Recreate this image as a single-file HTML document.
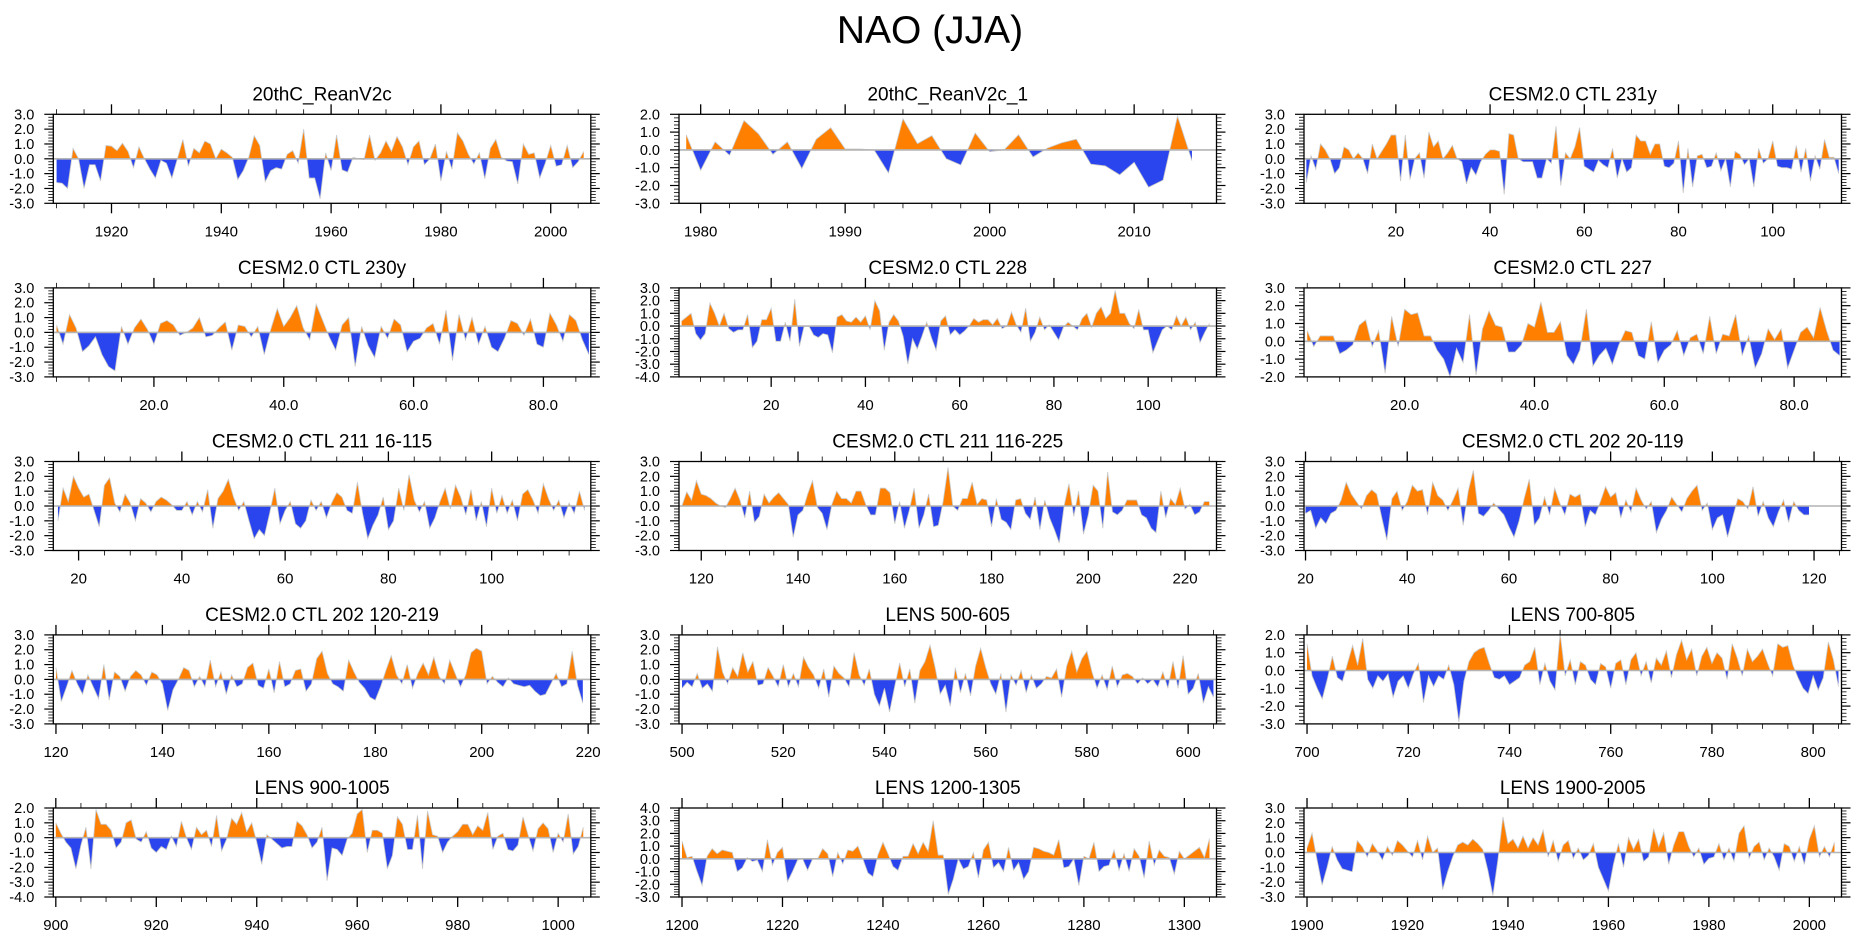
<!DOCTYPE html>
<html><head><meta charset="utf-8"><title>NAO (JJA)</title>
<style>
html,body{margin:0;padding:0;background:#fff;}
svg{display:block;font-family:"Liberation Sans",Arial,sans-serif;}
</style></head>
<body>
<svg id="chart" width="1861" height="937" viewBox="0 0 1861 937" xmlns="http://www.w3.org/2000/svg">
<rect x="0" y="0" width="1861" height="937" fill="#fff"/>
<text x="930" y="43" text-anchor="middle" font-size="39" fill="#000">NAO (JJA)</text>
<defs id="defs"></defs>
</svg>
<script>
// ---- data ----
const p1Start = 1910;
const p1Values = [-1.6,-1.65,-2.0,0.7,0,-2.0,-0.4,-0.4,-1.5,0.9,
0.85,0.55,1.05,0.5,-0.6,0.8,0.0,-0.7,-1.3,-0.1,
-0.3,-1.3,0.0,1.3,-0.5,0.7,0.4,1.2,1.0,0.0,
0.65,0.4,0.1,-1.4,-0.8,0.1,1.55,0.9,-1.55,-0.8,
-0.6,-0.7,0.3,0.55,-0.3,2.0,-1.3,-1.3,-2.7,0.4,
-0.8,1.6,-0.75,-0.9,0.1,0.0,-0.05,1.6,-0.1,0.4,
1.2,0.5,1.5,0.8,-0.4,0.8,1.2,-0.4,0.0,1.0,
-1.5,0.5,-0.7,1.75,1.2,0.3,-0.35,0.4,-1.35,0.7,
1.3,0.1,-0.15,-0.2,-1.7,1.0,0.3,0.4,-1.3,-0.3,
0.9,-0.5,-0.4,0.9,-0.6,-0.2,0.5];
const p2Start = 1979;
const p2Values = [0.85,-1.15,0.45,-0.3,1.65,0.9,-0.25,0.45,-1.05,0.6,1.25,0.05,0.05,0.0,-1.3,1.75,0.35,0.8,-0.5,-0.85,0.95,-0.1,0.0,0.85,-0.4,0.1,0.4,0.6,-0.8,-0.9,-1.4,-0.7,-2.1,-1.7,1.9,-0.6];
const p3Start = 1;
const p3Values = [-1.6,0.2,-0.7,1.0,0.6,0.0,-1.0,-0.6,0.8,0.6,
0.0,0.4,0.0,-1.0,1.0,0.0,0.5,1.0,1.6,1.6,
-1.5,1.6,-1.4,0.0,0.4,-1.3,1.8,0.8,1.2,0.0,
0.4,0.9,0.0,-0.2,-1.7,-0.6,-1.1,-0.2,0.3,0.6,
0.6,0.5,-2.4,1.7,1.6,0.0,-0.2,-0.2,-0.2,-1.3,
-1.3,0.0,-0.3,2.2,-1.8,0.4,0.0,0.8,2.1,-0.5,
-0.7,-0.9,-0.1,-0.4,-0.6,0.7,-1.3,0.0,-0.9,-0.6,
1.6,1.2,1.2,0.3,1.0,1.0,-0.5,-0.6,-0.3,1.2,
-2.3,0.7,-1.9,0.2,0.3,-0.6,-0.5,0.4,-0.8,0.0,
-1.9,0.5,0.3,-0.4,0.0,-1.9,0.7,-0.3,0.0,1.2,
-0.5,-0.6,-0.6,-0.7,0.9,-0.9,0.7,-1.5,0.2,-0.7,
1.3,0.1,0.1,-1.0];
const p4Start = 5;
const p4Values = [0.5,-0.8,1.2,0.3,-1.3,-0.9,-0.3,-1.5,-2.3,-2.6,
0.4,-0.8,0.3,0.9,0.2,-0.8,0.6,0.8,0.5,-0.2,
0.0,0.3,1.0,-0.3,-0.2,0.3,0.7,-1.2,0.5,0.4,
-0.3,0.4,-1.5,0.2,1.6,0.4,1.0,1.8,0.3,-0.5,
1.9,0.8,-0.3,-1.2,0.5,1.0,-2.3,0.4,-0.9,-1.7,
0.4,-0.4,0.9,0.5,-1.3,-0.6,-0.4,0.3,0.6,-0.8,
1.5,-1.9,1.2,-0.5,1.0,-0.8,0.4,-1.0,-1.3,-0.4,
0.8,0.6,-0.2,0.9,-0.8,-1.0,1.3,0.5,-0.6,1.2,
0.8,-0.5,-1.5];
const p5Start = 1;
const p5Values = [0.4,0.7,1.0,-0.6,-1.1,-0.6,1.8,1.0,0.0,1.0,
-0.2,-0.5,-0.3,-0.3,0.9,-1.7,-1.2,0.5,0.5,1.4,
-1.2,-1.2,0.3,-1.2,2.1,-1.6,0.0,0.0,-0.7,-0.9,
-0.6,-0.7,-2.1,0.7,0.9,0.4,0.3,0.7,0.3,0.8,
-0.3,2.0,1.2,-1.9,0.3,0.9,0.4,-0.8,-3.0,-1.0,
-1.8,-0.8,0.3,-0.9,-1.9,0.4,0.8,-0.7,-0.3,-0.7,
-0.4,0.0,0.6,0.3,0.5,0.5,0.1,0.6,-0.2,0.0,
1.1,0.1,-0.5,1.4,-1.2,-0.5,0.7,-0.3,0.1,-0.5,
-1.1,-0.1,0.3,0.0,-0.3,0.6,1.0,-0.1,1.0,1.5,
0.6,1.0,2.8,1.0,1.0,0.2,-0.2,1.3,-0.3,-0.3,
-2.1,-1.2,-0.3,0.0,-0.3,0.8,0.0,0.7,-0.3,0.3,
-1.3,-0.5,0.2];
const p6Start = 5;
const p6Values = [0.6,-0.3,0.3,0.3,0.3,-0.7,-0.5,-0.2,0.9,1.2,
-0.3,0.6,-1.8,1.4,-0.3,1.8,1.5,1.6,0.3,0.3,
-0.5,-1.0,-2.0,-0.4,-1.2,1.5,-1.9,0.7,1.7,0.9,
0.8,-0.6,-0.6,-0.2,1.0,0.8,2.2,0.5,0.5,1.1,
-0.8,-1.3,-0.5,1.8,-1.4,-0.8,-0.4,-1.3,-0.2,0.6,
0.5,-0.8,-1.0,1.1,-1.2,-0.5,-0.2,0.6,-0.8,0.2,
0.4,-0.7,1.4,-0.7,0.4,0.3,1.5,-0.8,0.3,-1.5,
-0.7,0.7,0.1,0.7,-1.5,-0.5,0.5,0.8,0.2,1.9,
0.6,-0.5,-0.8];
const p7Start = 16;
const p7Values = [-1.0,1.2,0.3,2.0,1.2,0.6,0.8,-0.3,-1.4,1.4,
1.9,0.2,-0.4,0.8,0.2,-1.0,0.5,0.2,-0.4,0.3,
0.6,0.4,0.1,-0.3,-0.3,0.3,-0.6,0.3,-0.4,1.1,
-1.5,0.5,1.0,1.8,0.6,-0.3,0.3,-1.0,-2.2,-1.6,
-2.0,-0.5,1.2,-1.2,-0.3,0.3,-1.2,-1.5,-1.0,0.4,
-0.3,0.3,-0.8,0.2,0.9,0.6,-0.3,-0.5,1.6,-0.5,
-2.2,-1.3,-0.6,0.6,-1.6,-1.0,1.2,-0.3,2.1,0.4,
-0.4,0.3,-1.5,-0.8,0.3,1.2,-0.2,1.4,0.6,-0.6,
1.1,-1.0,0.3,-1.4,1.2,-0.5,0.7,-0.5,0.4,-1.0,
0.8,1.1,0.4,-0.5,1.5,0.5,-0.3,0.4,-0.8,0.2,
-0.5,1.0,-0.3];
const p8Start = 116;
const p8Values = [0.0,0.95,0.4,1.7,0.8,0.7,0.5,0.2,0.0,-0.1,
0.5,1.2,0.4,-0.8,1.0,-1.1,-0.7,0.8,0.2,0.6,
0.9,0.5,0.1,-2.1,-0.6,-0.3,0.8,1.7,-0.1,-0.5,
-1.6,0.1,1.0,0.5,0.5,0.2,1.0,1.0,0.1,-0.6,
-0.6,1.2,1.2,0.9,-1.2,0.3,-1.5,-0.3,1.2,-1.5,
-0.6,0.8,-1.4,-1.3,0.3,2.6,0.0,-0.3,0.5,0.5,
1.6,0.1,0.5,0.4,-1.4,0.5,-0.9,-1.1,-1.6,0.4,
0.5,-0.5,-0.9,0.6,-1.6,0.4,-0.8,-1.6,-2.5,0.0,
1.5,-0.7,1.0,-1.9,-0.6,1.4,1.0,-1.5,2.3,-0.4,
-0.6,-0.3,0.4,0.4,0.4,-0.6,-0.8,-1.5,-1.8,1.0,
-0.8,0.5,0.1,1.2,-0.2,0.1,-0.6,-0.4,0.3,0.3];
const p9Start = 20;
const p9Values = [-0.5,-0.3,-1.5,-0.8,-1.2,-0.5,-0.3,0.4,1.6,0.8,
0.3,-0.2,0.7,1.1,0.8,-0.8,-2.3,0.5,1.0,-0.3,
0.3,1.4,1.0,1.1,-0.6,1.6,0.7,0.4,-0.3,0.4,
1.2,-1.3,1.0,2.4,-0.5,-0.7,-0.3,0.2,-0.2,-0.6,
-1.4,-2.1,-1.0,0.5,1.8,-1.3,-0.8,0.6,-0.6,1.2,
0.2,-0.6,0.8,0.6,0.8,-1.4,-0.3,-0.6,0.3,1.3,
0.6,0.9,-0.8,0.4,-0.4,1.2,0.4,-0.2,0.3,-1.8,
-0.9,-0.3,0.6,0.1,-0.4,0.5,1.0,1.4,-0.3,0.2,
-1.6,-0.8,-0.6,-2.1,-0.8,0.5,0.3,-0.2,1.3,-0.7,
0.3,-0.8,-1.4,-0.4,0.4,-1.1,0.3,-0.3,-0.6,-0.6];
const p10Start = 120;
const p10Values = [0.8,-1.5,-0.5,0.6,-0.3,-1.0,0.3,-0.5,-1.3,1.0,
-1.4,0.5,0.2,-0.8,0.2,0.6,0.3,-0.4,0.5,0.3,
-0.3,-2.1,-0.7,0.0,0.8,0.6,-0.5,0.2,-0.5,1.3,
-0.5,0.5,-1.0,0.3,-0.5,-0.3,0.8,1.1,-0.4,-0.6,
0.7,-0.9,1.2,-0.5,-0.3,0.6,0.7,-0.8,-0.3,1.4,
1.9,0.4,-0.3,-0.5,-0.8,1.3,0.5,-0.2,-0.6,-1.2,
-1.4,-0.5,0.6,1.6,0.3,-0.3,1.0,-0.6,0.4,1.1,
0.3,1.5,0.2,-0.3,1.3,0.4,-0.5,0.3,1.8,2.1,
1.9,-0.3,0.2,-0.2,-0.5,0.1,-0.3,-0.4,-0.5,-0.4,
-0.8,-1.1,-1.0,-0.3,0.4,-0.5,-0.3,1.9,-0.4,-1.6];
const p11Start = 500;
const p11Values = [-0.6,-0.2,-0.5,0.4,-0.6,-0.3,-0.8,2.2,0.5,-0.3,
0.8,0.2,1.8,0.5,1.2,-0.4,-0.3,0.8,0.2,-0.5,
1.0,-0.5,0.4,-0.5,1.5,0.8,0.3,-0.6,0.7,-1.2,
0.9,0.4,0.1,-0.5,1.8,0.3,-0.4,0.7,-1.0,-1.8,
-0.6,-2.2,-0.5,1.1,-0.5,0.7,-1.6,0.6,1.2,2.3,
0.8,-1.0,-0.4,-1.8,0.8,-0.9,0.4,-1.1,0.9,2.1,
0.8,-0.3,-1.0,0.4,-2.2,0.3,-0.4,0.6,-0.9,0.3,
-0.6,-0.3,0.2,0.1,0.7,-1.2,0.9,1.9,0.5,1.4,
1.9,0.5,-0.6,0.3,-0.7,0.9,-0.5,0.3,0.4,0.2,
-0.3,0.1,-0.3,0.0,-0.5,0.5,-0.6,1.2,-0.6,1.6,
-1.0,-0.6,0.4,-1.6,-0.5,-1.2];
const p12Start = 700;
const p12Values = [1.5,-0.3,-1.0,-1.6,-0.5,0.8,-0.4,-0.6,0.4,1.4,
0.3,1.8,-0.5,-1.0,-0.3,-0.6,-0.2,-1.5,-0.6,-0.3,
-1.0,-0.2,0.4,-1.8,-0.3,-0.9,-0.3,-0.5,0.3,-0.8,
-2.9,-0.6,0.5,1.0,1.2,1.3,0.4,-0.4,-0.5,-0.3,
-0.8,-0.6,-0.4,0.3,0.5,1.3,-0.8,0.4,-0.6,-1.1,
2.1,-0.3,0.6,-0.8,0.5,0.3,-0.5,-0.8,0.4,0.2,
-1.0,0.4,0.6,-0.8,0.6,1.0,-0.3,0.5,-0.7,0.7,
0.3,1.1,-0.4,0.9,1.7,0.6,1.2,-0.3,0.8,1.3,
0.4,1.0,0.7,-0.5,1.5,0.7,-0.3,1.2,0.5,0.8,
1.2,0.4,-0.3,1.5,1.3,1.4,0.3,-0.4,-1.0,-1.3,
-0.3,-1.1,-0.4,1.6,0.6,-0.9];
const p13Start = 900;
const p13Values = [1.0,0.3,-0.3,-0.7,-2.1,-0.5,0.7,-2.1,1.9,0.9,
0.9,0.5,-0.7,-0.3,1.0,1.2,-0.1,-0.3,0.4,-0.7,
-1.0,-0.6,-0.8,0.1,-0.6,1.1,0.0,-0.8,0.7,0.2,
0.5,-0.6,1.5,-0.9,-0.1,1.3,0.9,1.7,0.4,1.0,
-0.3,-1.8,0.2,-0.1,-0.4,-0.7,-0.6,-0.6,1.1,0.8,
0.2,-0.7,-0.3,0.7,-2.9,-0.7,-0.8,-1.2,-0.1,0.3,
1.6,1.9,-1.0,0.5,0.5,0.3,-2.1,-1.2,1.4,0.9,
-0.8,-0.8,1.5,-2.1,1.8,0.2,0.1,-1.0,-0.3,0.1,
0.4,0.9,0.9,0.2,0.8,0.5,1.7,-0.8,0.1,0.3,
-0.8,-0.9,-0.5,1.4,0.2,-0.9,0.6,1.0,0.6,-1.0,
0.3,-0.3,1.6,-1.1,-0.6,0.7];
const p14Start = 1200;
const p14Values = [1.4,0.1,0.2,-1.0,-2.1,0.2,0.8,0.4,0.7,0.6,
0.5,-1.0,-0.7,0.1,-0.2,-0.1,-1.0,1.5,-0.5,0.5,
0.9,-1.8,-1.0,-0.1,0.0,-0.9,0.0,0.0,0.8,0.4,
-1.4,0.5,-0.4,0.7,0.6,1.0,0.0,-1.1,-1.4,0.3,
1.3,0.4,-0.6,-0.9,0.2,0.2,1.2,0.4,1.3,0.6,
3.0,0.3,0.3,-2.8,-1.6,0.0,-0.8,-0.6,0.5,-1.5,
0.7,1.3,-0.7,-0.3,-1.0,0.9,-0.9,-0.3,-1.6,-1.0,
0.9,0.8,0.6,0.5,0.3,1.5,-0.7,-0.6,0.0,-2.1,
0.2,0.0,1.3,-1.0,-0.6,-0.5,0.7,-0.9,0.4,-1.0,
0.8,0.2,-1.5,1.4,-0.5,0.7,0.2,0.1,-1.2,0.6,
0.0,0.3,0.6,0.9,0.1,1.6];
const p15Start = 1900;
const p15Values = [0.3,1.3,-0.5,-2.2,-1.0,0.4,-0.5,-1.1,-1.2,-1.3,
0.8,0.4,-0.3,0.6,0.1,-0.5,0.4,-0.2,0.8,0.5,
0.1,-0.3,0.8,-0.5,1.1,0.0,0.3,-2.5,-1.3,-0.3,
0.5,0.7,0.5,0.9,0.6,0.2,-1.2,-2.9,-0.5,2.4,
0.6,0.9,0.3,1.1,0.3,1.0,0.5,1.5,-0.3,0.8,
-0.6,0.5,0.8,-0.4,0.3,-0.5,-0.2,0.6,-1.0,-1.8,
-2.6,-0.8,0.6,-1.0,1.0,0.2,0.9,-0.6,-0.3,1.6,
0.4,1.3,-0.8,0.5,1.4,1.4,0.4,-0.3,0.3,-0.8,
-0.4,-0.3,0.6,-0.5,0.3,-0.6,1.3,1.8,-0.4,0.4,
0.7,-0.5,0.3,-0.3,-1.2,0.6,0.4,-0.6,0.4,-0.8,
0.9,1.8,-0.3,0.4,-0.3,0.7];

const panelTitles = ["20thC_ReanV2c","20thC_ReanV2c_1","CESM2.0 CTL 231y","CESM2.0 CTL 230y","CESM2.0 CTL 228","CESM2.0 CTL 227","CESM2.0 CTL 211 16-115","CESM2.0 CTL 211 116-225","CESM2.0 CTL 202 20-119","CESM2.0 CTL 202 120-219","LENS 500-605","LENS 700-805","LENS 900-1005","LENS 1200-1305","LENS 1900-2005"];
const panelStarts = [p1Start,p2Start,p3Start,p4Start,p5Start,p6Start,p7Start,p8Start,p9Start,p10Start,p11Start,p12Start,p13Start,p14Start,p15Start];
const panelValues = [p1Values,p2Values,p3Values,p4Values,p5Values,p6Values,p7Values,p8Values,p9Values,p10Values,p11Values,p12Values,p13Values,p14Values,p15Values];
const xMins = [1909.4,1978.5,0.5,4.5,0.44,4.5,15.1,115.4,19.7,119.5,499.4,699.4,899.5,1199.4,1899.4];
const xMaxs = [2007.3,2015.7,114.6,87.3,114.5,87.3,119.2,226.5,125.4,220.5,605.6,805.6,1006.5,1306.4,2006.4];
const yMaxs = [3,2,3,3,3,3,3,3,3,3,3,2,2,4,3];
const yMins = [-3,-3,-3,-3,-4,-2,-3,-3,-3,-3,-3,-3,-4,-3,-3];
const xMajorSteps = [20,10,20,20,20,20,20,20,20,20,20,20,20,20,20];
const xMinorSteps = [5,2,5,5,5,5,5,5,5,5,5,5,5,5,5];
const xLabelDecimals = [0,0,0,1,0,1,0,0,0,0,0,0,0,0,0];

// ---- layout ----
const colLeft = [53.3, 679, 1304];
const rowTop = [114.3, 287.9, 461.5, 634.9, 808];
const plotW = 537.5, plotH = 89;
const POS = "#ff8000", NEG = "#2b45ee";

const svg = document.getElementById('chart');
const defs = document.getElementById('defs');
const NS = "http://www.w3.org/2000/svg";
function mk(tag, attrs, parent) {
  const e = document.createElementNS(NS, tag);
  for (const k in attrs) e.setAttribute(k, attrs[k]);
  (parent || svg).appendChild(e);
  return e;
}

for (let p = 0; p < 15; p++) {
  const L = colLeft[p % 3], T = rowTop[Math.floor(p / 3)];
  const xmin = xMins[p], xmax = xMaxs[p], ymin = yMins[p], ymax = yMaxs[p];
  const sx = v => L + (v - xmin) / (xmax - xmin) * plotW;
  const sy = v => T + (ymax - v) / (ymax - ymin) * plotH;
  const vals = panelValues[p], start = panelStarts[p];

  const g = mk('g', {});
  
  

  const cpPos = mk('clipPath', {id: 'cpos' + p}, defs);
  mk('rect', {x: L, y: T, width: plotW, height: sy(0) - T}, cpPos);
  const cpNeg = mk('clipPath', {id: 'cneg' + p}, defs);
  mk('rect', {x: L, y: sy(0), width: plotW, height: T + plotH - sy(0)}, cpNeg);

  let d = 'M' + sx(start).toFixed(2) + ' ' + sy(0).toFixed(2);
  let line = '';
  vals.forEach((v, i) => {
    const X = sx(start + i).toFixed(2), Y = sy(v).toFixed(2);
    d += ' L' + X + ' ' + Y;
    line += (i ? ' L' : 'M') + X + ' ' + Y;
  });
  d += ' L' + sx(start + vals.length - 1).toFixed(2) + ' ' + sy(0).toFixed(2) + ' Z';

  const ap = mk('path', {d: d, fill: POS, 'clip-path': 'url(#cpos' + p + ')'}, g);
  
  
  const an = mk('path', {d: d, fill: NEG, 'clip-path': 'url(#cneg' + p + ')'}, g);
  
  
  const ln = mk('path', {d: line, fill: 'none', stroke: '#c8c8c8', 'stroke-width': 0.8}, g);
  
  
  const zl = mk('line', {x1: L, x2: L + plotW, y1: sy(0), y2: sy(0), stroke: '#b4b4b4', 'stroke-width': 1.6}, g);
  
  

  const fr = mk('rect', {x: L, y: T, width: plotW, height: plotH, fill: 'none', stroke: '#000', 'stroke-width': 1.3}, g);
  
  

  const nMinor = Math.round((ymax - ymin) / 0.2);
  for (let k = 0; k <= nMinor; k++) {
    const v = ymin + k * 0.2;
    const major = k % 5 === 0;
    const len = major ? 9 : 5;
    const y = sy(v);
    mk('line', {x1: L - len, x2: L, y1: y, y2: y, stroke: '#000', 'stroke-width': major ? 1.2 : 0.8}, g);
    mk('line', {x1: L + plotW, x2: L + plotW + len, y1: y, y2: y, stroke: '#000', 'stroke-width': major ? 1.2 : 0.8}, g);
  }
  for (let v = ymin; v <= ymax + 1e-9; v += 1) {
    const t = mk('text', {x: L - 19, y: sy(v) + 5, 'text-anchor': 'end', 'font-size': 14.5}, g);
    
    
    t.textContent = v.toFixed(1);
  }

  const mS = xMinorSteps[p], MS = xMajorSteps[p];
  for (let v = Math.ceil(xmin / mS) * mS; v <= xmax; v += mS) {
    const major = Math.abs(v / MS - Math.round(v / MS)) < 1e-9;
    const len = major ? 10 : 5;
    const x = sx(v);
    mk('line', {x1: x, x2: x, y1: T - len, y2: T, stroke: '#000', 'stroke-width': major ? 1.3 : 0.8}, g);
    mk('line', {x1: x, x2: x, y1: T + plotH, y2: T + plotH + len, stroke: '#000', 'stroke-width': major ? 1.3 : 0.8}, g);
    if (major) {
      const t = mk('text', {x: x, y: T + plotH + 33, 'text-anchor': 'middle', 'font-size': 15}, g);
      
      
      t.textContent = v.toFixed(xLabelDecimals[p]);
    }
  }

  const tt = mk('text', {x: L + plotW / 2, y: T - 14, 'text-anchor': 'middle', 'font-size': 19}, g);
  
  
  tt.textContent = panelTitles[p];
}
</script>
</body></html>
